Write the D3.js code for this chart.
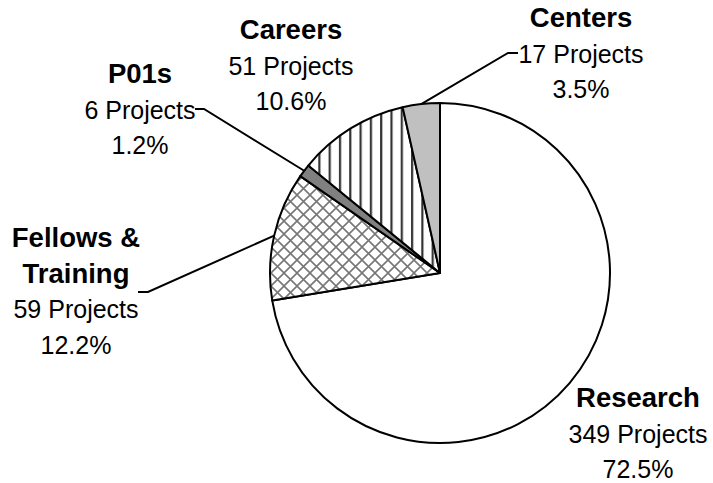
<!DOCTYPE html>
<meta charset="utf-8">
<title>Projects by Type</title>
<style type="text/css">
	body { margin: 0; background: #fff; }
	text { font-family: "Liberation Sans", Arial, sans-serif; }
</style>
<body>
<div id="chart"></div>
</body>
<script src="https://d3js.org/d3.v7.min.js"></script>
<script>

// data (clockwise from 12 o'clock)
var categories = ["Research", "Fellows & Training", "P01s", "Careers", "Centers"];
var projects = [349, 59, 6, 51, 17];
var percentLabels = ["72.5%", "12.2%", "1.2%", "10.6%", "3.5%"];

var width = 713, height = 483;
var cx = 440, cy = 273, radius = 170;

var svg = d3.select("#chart").append("svg")
		.attr("width", width)
		.attr("height", height);

var defs = svg.append("defs");

// vertical stripes for Careers
var stripes = defs.append("pattern")
		.attr("id", "stripes")
		.attr("patternUnits", "userSpaceOnUse")
		.attr("width", 10.3).attr("height", 10);
stripes.append("rect").attr("width", 10.3).attr("height", 10).attr("fill", "#fff");
stripes.append("line").attr("x1", 3).attr("x2", 3).attr("y1", 0).attr("y2", 10)
		.attr("stroke", "#333").attr("stroke-width", 2.2);

// diamond crosshatch for Fellows
var hatch = defs.append("pattern")
		.attr("id", "hatch")
		.attr("patternUnits", "userSpaceOnUse")
		.attr("width", 13).attr("height", 13);
hatch.append("rect").attr("width", 13).attr("height", 13).attr("fill", "#fff");
hatch.append("path").attr("d", "M0,0L13,13M13,0L0,13M-1,12L1,14M12,-1L14,1")
		.attr("stroke", "#777").attr("stroke-width", 1.6);

var fills = ["#ffffff", "url(#hatch)", "#808080", "url(#stripes)", "#c0c0c0"];

var pie = d3.pie().sort(null).value(function(d, i) { return projects[i]; });
var arcs = pie(categories);

var arc = d3.arc().innerRadius(0).outerRadius(radius);

var g = svg.append("g").attr("transform", "translate(" + cx + "," + cy + ")");

g.selectAll("path.slice")
		.data(arcs)
		.enter().append("path")
		.attr("class", "slice")
		.attr("d", arc)
		.attr("fill", function(d, i) { return fills[i]; })
		.attr("stroke", "#000")
		.attr("stroke-width", 2)
		.attr("stroke-linejoin", "round");

// label layout: x center, first baseline, leader end point (or null)
var labelPos = [
	{x: 638, y: 407, leader: null},
	{x: 76, y: 247, leader: [148, 292, 138]},
	{x: 140, y: 83, leader: [204, 109, 195]},
	{x: 291, y: 39, leader: null},
	{x: 581, y: 27, leader: [508, 53, 518]}
];
var lineH = 35.5;

// leader lines from the slice edge to the labels
arcs.forEach(function(d, i) {
	var p = labelPos[i];
	if (!p.leader) return;
	var a = (d.startAngle + d.endAngle) / 2;
	var x0 = cx + Math.sin(a) * radius, y0 = cy - Math.cos(a) * radius;
	svg.append("path")
			.attr("d", "M" + x0 + "," + y0 + "L" + p.leader[0] + "," + p.leader[1] + "L" + p.leader[2] + "," + p.leader[1])
			.attr("fill", "none")
			.attr("stroke", "#000")
			.attr("stroke-width", 2);
});

// labels
arcs.forEach(function(d, i) {
	var p = labelPos[i];
	var t = svg.append("text")
			.attr("text-anchor", "middle")
			.style("font-size", "25px")
			.attr("fill", "#000");
	var nameLines = categories[i] == "Fellows & Training" ? ["Fellows &", "Training"] : [categories[i]];
	var row = 0;
	nameLines.forEach(function(s) {
		t.append("tspan").attr("x", p.x).attr("y", p.y + row * lineH)
				.style("font-weight", "bold").style("font-size", "27.5px").text(s);
		row++;
	});
	t.append("tspan").attr("x", p.x).attr("y", p.y + row * lineH).text(projects[i] + " Projects");
	row++;
	t.append("tspan").attr("x", p.x).attr("y", p.y + row * lineH).text(percentLabels[i]);
});

</script>
</body>
